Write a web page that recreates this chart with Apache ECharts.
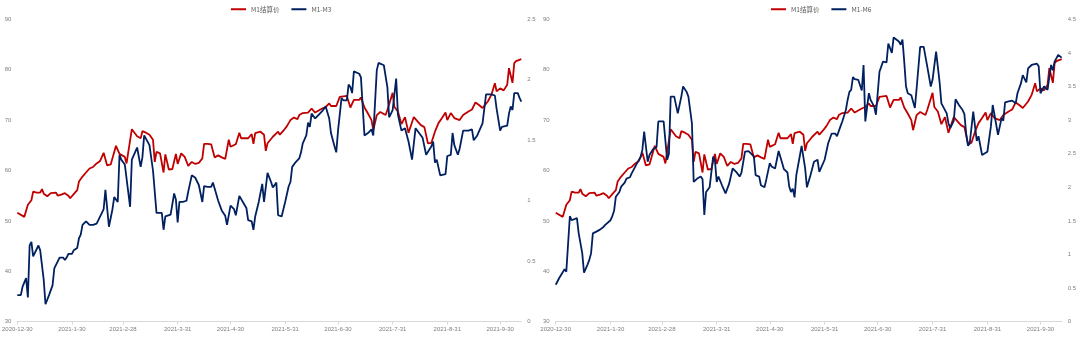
<!DOCTYPE html>
<html><head><meta charset="utf-8">
<script src="https://cdn.jsdelivr.net/npm/echarts@6/dist/echarts.min.js"></script>
<style>html,body{margin:0;padding:0;background:#fff}#c{width:1080px;height:338px}</style>
</head><body><div id="c"></div>
<script>
// ---- data (dates as M-D; 12-xx is 2020, others 2021) ----
const axisStart = '12-30';
const axisEnd = '10-12';
const tickDates = ['12-30','1-30','2-28','3-31','4-30','5-31','6-30','7-31','8-31','9-30'];
const legendLeft = ['M1结算价', 'M1-M3'];
const legendRight = ['M1结算价', 'M1-M6'];

const m1Price = [['12-30',51.6],['12-31',51.5],['1-3',50.8],['1-4',50.5],['1-5',53.2],['1-7',54.1],['1-8',55.8],['1-10',55.6],['1-12',55.6],['1-13',56.3],['1-14',55.4],['1-15',55.7],['1-16',54.9],['1-18',55.5],['1-19',55.8],['1-21',55.6],['1-22',55.0],['1-24',55.2],['1-26',55.5],['1-28',55.0],['1-29',54.5],['1-31',55.3],['2-2',56.1],['2-3',57.8],['2-5',58.8],['2-7',59.6],['2-9',60.4],['2-11',60.7],['2-13',61.4],['2-15',61.9],['2-17',63.5],['2-19',61.0],['2-21',61.2],['2-24',64.9],['2-25',65.0],['2-26',63.3],['3-1',62.7],['3-2',61.4],['3-3',63.7],['3-5',68.2],['3-8',66.8],['3-10',66.4],['3-11',67.8],['3-13',67.5],['3-15',67.1],['3-17',66.1],['3-18',61.7],['3-19',63.7],['3-21',63.4],['3-23',59.6],['3-24',63.2],['3-26',60.2],['3-28',60.3],['3-30',63.3],['3-31',61.3],['4-2',63.4],['4-4',62.7],['4-6',60.9],['4-8',61.7],['4-10',61.3],['4-12',61.5],['4-14',62.4],['4-15',65.3],['4-17',65.3],['4-19',65.2],['4-21',62.6],['4-23',63.0],['4-25',62.6],['4-27',62.3],['4-29',66.1],['4-30',64.7],['5-3',65.2],['5-5',67.5],['5-6',66.4],['5-10',66.4],['5-12',67.2],['5-13',65.3],['5-14',67.4],['5-17',67.7],['5-19',67.1],['5-20',63.9],['5-21',65.4],['5-24',66.7],['5-25',66.8],['5-27',67.7],['5-28',67.1],['5-30',67.9],['6-1',68.8],['6-3',70.0],['6-5',70.5],['6-7',70.2],['6-8',71.0],['6-10',71.4],['6-13',71.5],['6-15',72.3],['6-17',71.5],['6-19',71.9],['6-21',72.3],['6-23',72.6],['6-25',73.3],['6-26',72.8],['6-29',72.8],['7-1',74.6],['7-3',74.7],['7-5',74.8],['7-7',72.5],['7-9',74.0],['7-12',74.0],['7-13',74.5],['7-15',72.5],['7-17',71.3],['7-19',70.0],['7-20',68.0],['7-22',71.0],['7-24',71.6],['7-27',71.0],['7-28',72.0],['7-31',75.4],['8-1',72.6],['8-3',71.7],['8-5',69.2],['8-7',70.6],['8-9',67.5],['8-12',70.6],['8-16',69.0],['8-18',68.6],['8-20',65.4],['8-22',65.5],['8-24',67.7],['8-26',69.4],['8-28',70.4],['8-30',71.5],['8-31',70.0],['9-2',71.4],['9-4',70.4],['9-7',70.0],['9-9',71.0],['9-12',71.7],['9-14',72.1],['9-16',73.5],['9-18',73.0],['9-20',72.4],['9-23',73.7],['9-25',75.0],['9-27',77.3],['9-28',75.7],['9-30',76.3],['10-2',75.9],['10-4',77.0],['10-5',80.3],['10-7',77.4],['10-8',81.3],['10-9',81.7],['10-12',82.1]];

const m1m3 = [['12-30',0.22],['1-1',0.22],['1-2',0.29],['1-4',0.36],['1-5',0.20],['1-6',0.63],['1-7',0.66],['1-8',0.54],['1-11',0.63],['1-12',0.59],['1-14',0.345],['1-15',0.144],['1-17',0.22],['1-19',0.30],['1-20',0.44],['1-21',0.455],['1-23',0.53],['1-25',0.53],['1-26',0.51],['1-27',0.53],['1-28',0.56],['1-30',0.56],['1-31',0.59],['2-2',0.61],['2-3',0.69],['2-4',0.72],['2-5',0.80],['2-7',0.83],['2-8',0.84],['2-9',0.80],['2-11',0.80],['2-13',0.81],['2-14',0.84],['2-16',0.90],['2-17',0.93],['2-18',1.09],['2-20',0.785],['2-22',0.93],['2-23',1.03],['2-25',0.99],['2-26',1.38],['2-27',1.34],['3-1',1.30],['3-4',0.95],['3-5',1.34],['3-8',1.44],['3-10',1.28],['3-11',1.36],['3-12',1.54],['3-15',1.46],['3-17',1.25],['3-19',0.90],['3-22',0.90],['3-23',0.76],['3-24',0.87],['3-27',0.885],['3-29',1.06],['3-30',1.01],['3-31',0.82],['4-1',0.99],['4-3',0.99],['4-5',1.00],['4-6',1.075],['4-7',1.07],['4-8',1.21],['4-10',1.19],['4-12',1.13],['4-13',1.13],['4-14',0.99],['4-15',1.12],['4-17',1.115],['4-19',1.115],['4-20',1.15],['4-23',1.00],['4-25',0.92],['4-27',0.875],['4-28',0.80],['4-30',0.96],['5-2',0.93],['5-3',0.88],['5-5',1.04],['5-7',0.99],['5-9',0.94],['5-10',0.84],['5-12',0.83],['5-13',0.76],['5-14',0.87],['5-16',0.99],['5-18',1.14],['5-19',0.99],['5-21',1.23],['5-23',1.155],['5-24',1.11],['5-26',1.15],['5-27',0.88],['5-29',0.87],['5-31',0.99],['6-2',1.12],['6-3',1.155],['6-4',1.28],['6-6',1.32],['6-8',1.35],['6-9',1.40],['6-10',1.475],['6-12',1.54],['6-13',1.645],['6-14',1.61],['6-15',1.72],['6-17',1.68],['6-19',1.71],['6-21',1.74],['6-23',1.78],['6-25',1.68],['6-26',1.56],['6-28',1.45],['6-29',1.40],['6-30',1.58],['7-2',1.85],['7-3',1.83],['7-5',1.83],['7-6',1.96],['7-7',1.94],['7-8',1.89],['7-9',2.07],['7-12',2.05],['7-13',2.02],['7-15',1.54],['7-17',1.56],['7-19',1.59],['7-20',1.54],['7-22',2.08],['7-23',2.14],['7-26',2.12],['7-27',2.11],['7-28',1.94],['7-29',1.69],['7-31',1.75],['8-2',2.01],['8-3',1.71],['8-5',1.58],['8-7',1.60],['8-9',1.49],['8-11',1.34],['8-13',1.60],['8-15',1.56],['8-17',1.52],['8-19',1.38],['8-20',1.37],['8-22',1.45],['8-23',1.49],['8-24',1.315],['8-25',1.34],['8-27',1.21],['8-30',1.22],['8-31',1.37],['9-2',1.38],['9-3',1.56],['9-4',1.46],['9-6',1.38],['9-7',1.43],['9-9',1.58],['9-12',1.58],['9-14',1.59],['9-15',1.50],['9-17',1.54],['9-20',1.64],['9-21',1.76],['9-22',1.88],['9-23',1.89],['9-25',1.88],['9-27',1.87],['9-28',1.76],['9-30',1.58],['10-1',1.61],['10-4',1.62],['10-5',1.72],['10-6',1.78],['10-7',1.75],['10-8',1.89],['10-10',1.89],['10-11',1.85],['10-12',1.82]];

const m1m6 = [['12-30',0.55],['1-1',0.65],['1-4',0.78],['1-5',0.745],['1-7',1.57],['1-8',1.51],['1-9',1.52],['1-11',1.54],['1-12',1.315],['1-14',1.02],['1-15',0.73],['1-17',0.85],['1-18',0.92],['1-19',1.02],['1-20',1.315],['1-22',1.34],['1-24',1.37],['1-26',1.41],['1-27',1.44],['1-28',1.45],['1-30',1.51],['1-31',1.57],['2-1',1.65],['2-2',1.86],['2-4',1.93],['2-5',2.01],['2-7',2.07],['2-8',2.13],['2-10',2.15],['2-11',2.21],['2-12',2.26],['2-14',2.36],['2-16',2.45],['2-17',2.56],['2-18',2.83],['2-19',2.83],['2-20',2.38],['2-21',2.48],['2-23',2.565],['2-24',2.56],['2-25',2.60],['2-26',2.98],['3-1',2.98],['3-2',2.96],['3-3',2.41],['3-4',2.50],['3-5',3.35],['3-7',3.35],['3-9',3.10],['3-11',3.35],['3-12',3.50],['3-14',3.42],['3-15',3.35],['3-17',2.95],['3-18',2.08],['3-20',2.13],['3-22',2.16],['3-23',2.12],['3-24',1.59],['3-25',1.93],['3-26',1.92],['3-27',2.00],['3-29',2.455],['3-30',2.40],['3-31',2.08],['4-1',2.16],['4-2',2.16],['4-3',2.03],['4-5',1.91],['4-7',2.05],['4-8',2.05],['4-9',2.28],['4-11',2.23],['4-13',2.16],['4-14',2.22],['4-16',2.53],['4-18',2.54],['4-19',2.53],['4-21',2.46],['4-22',2.18],['4-24',2.16],['4-25',2.03],['4-27',2.00],['4-28',2.11],['4-30',2.36],['5-1',2.31],['5-3',2.28],['5-5',2.54],['5-7',2.36],['5-8',2.27],['5-10',2.22],['5-11',2.01],['5-12',1.93],['5-13',1.98],['5-14',1.85],['5-15',2.18],['5-17',2.47],['5-18',2.615],['5-19',2.60],['5-20',2.28],['5-21',2.00],['5-23',2.18],['5-25',2.38],['5-27',2.41],['5-28',2.23],['5-29',2.25],['5-31',2.41],['6-2',2.655],['6-3',2.68],['6-4',2.80],['6-6',2.80],['6-7',2.76],['6-9',2.91],['6-10',2.98],['6-12',3.15],['6-13',3.30],['6-14',3.42],['6-15',3.45],['6-16',3.64],['6-17',3.61],['6-19',3.60],['6-21',3.44],['6-22',3.82],['6-23',2.98],['6-25',3.40],['6-26',3.30],['6-28',3.20],['6-29',3.08],['6-30',3.08],['7-1',3.72],['7-3',3.87],['7-5',3.86],['7-6',4.14],['7-8',4.00],['7-9',4.23],['7-12',4.17],['7-13',4.12],['7-14',4.20],['7-15',3.87],['7-16',3.50],['7-17',3.40],['7-19',3.37],['7-21',3.18],['7-22',3.47],['7-24',4.09],['7-26',4.09],['7-27',4.08],['7-28',3.80],['7-30',3.50],['7-31',3.60],['8-2',4.02],['8-4',3.56],['8-5',3.25],['8-6',3.23],['8-8',3.10],['8-9',2.95],['8-10',2.88],['8-12',2.99],['8-13',3.31],['8-15',3.22],['8-17',3.15],['8-18',3.09],['8-19',2.80],['8-20',2.62],['8-21',2.65],['8-23',3.125],['8-25',2.69],['8-26',2.76],['8-28',2.48],['8-31',2.53],['9-2',2.91],['9-3',3.225],['9-4',3.08],['9-6',2.78],['9-8',3.03],['9-9',2.99],['9-10',3.265],['9-12',3.28],['9-14',3.29],['9-15',3.31],['9-16',3.25],['9-17',3.40],['9-19',3.55],['9-20',3.67],['9-22',3.56],['9-23',3.77],['9-25',3.82],['9-28',3.84],['9-29',3.80],['9-30',3.40],['10-2',3.50],['10-4',3.45],['10-5',3.64],['10-6',3.82],['10-7',3.74],['10-8',3.87],['10-10',3.97],['10-12',3.93]];

// ---- helpers ----
function toTime(md) {
  const p = md.split('-').map(Number);
  return new Date(p[0] === 12 ? 2020 : 2021, p[0] - 1, p[1]).getTime();
}
function toSeries(arr) { return arr.map(r => [toTime(r[0]), r[1]]); }
function fmtDate(v) {
  const d = new Date(v);
  return d.getFullYear() + '-' + (d.getMonth() + 1) + '-' + d.getDate();
}
const ticks = tickDates.map(toTime);
const FONT = '"Liberation Sans", "Noto Sans CJK SC", sans-serif';
const LABEL = '#7f7f7f';
const RED = '#C00000';
const NAVY = '#002060';

function makeX(gi) {
  return {
    type: 'value', gridIndex: gi, min: toTime(axisStart), max: toTime(axisEnd), scale: true,
    splitLine: { show: false },
    axisLine: { show: true, onZero: false, lineStyle: { color: '#d9d9d9', width: 1 } },
    axisTick: { show: true, customValues: ticks, length: 3, lineStyle: { color: '#d9d9d9' } },
    axisLabel: { customValues: ticks, formatter: fmtDate, fontSize: 6, color: LABEL, margin: 5, fontFamily: FONT, hideOverlap: false }
  };
}
function makeY(gi, pos, min, max, interval) {
  return {
    type: 'value', gridIndex: gi, position: pos, min: min, max: max, interval: interval,
    axisLine: { show: false }, axisTick: { show: false }, splitLine: { show: false },
    axisLabel: { fontSize: 6, color: LABEL, margin: 6, fontFamily: FONT }
  };
}
function makeLine(name, data, color, xi, yi, z) {
  return {
    name: name, type: 'line', xAxisIndex: xi, yAxisIndex: yi, data: toSeries(data),
    showSymbol: false, symbol: 'none', z: z,
    lineStyle: { color: color, width: 1.8 }, itemStyle: { color: color }
  };
}
function makeLegend(names, left) {
  return {
    data: names, left: left, top: 1, orient: 'horizontal',
    icon: 'rect', itemWidth: 15, itemHeight: 2, itemGap: 12,
    textStyle: { fontSize: 6.5, color: '#595959', fontFamily: '"Noto Sans CJK SC", sans-serif' }
  };
}

const chart = echarts.init(document.getElementById('c'), null, { renderer: 'canvas' });
chart.setOption({
  animation: false,
  backgroundColor: '#ffffff',
  legend: [makeLegend(legendLeft, 226), makeLegend(legendRight, 766)],
  grid: [
    { left: 17.3, top: 19.3, width: 504, height: 302.4, containLabel: false, outerBoundsMode: 'none' },
    { left: 555.7, top: 19.3, width: 506, height: 302.4, containLabel: false, outerBoundsMode: 'none' }
  ],
  xAxis: [makeX(0), makeX(1)],
  yAxis: [
    makeY(0, 'left', 30, 90, 10),
    makeY(0, 'right', 0, 2.5, 0.5),
    makeY(1, 'left', 30, 90, 10),
    makeY(1, 'right', 0, 4.5, 0.5)
  ],
  series: [
    makeLine(legendLeft[0], m1Price, RED, 0, 0, 2),
    makeLine(legendLeft[1], m1m3, NAVY, 0, 1, 3),
    makeLine(legendRight[0], m1Price, RED, 1, 2, 2),
    makeLine(legendRight[1], m1m6, NAVY, 1, 3, 3)
  ]
});
</script></body></html>
